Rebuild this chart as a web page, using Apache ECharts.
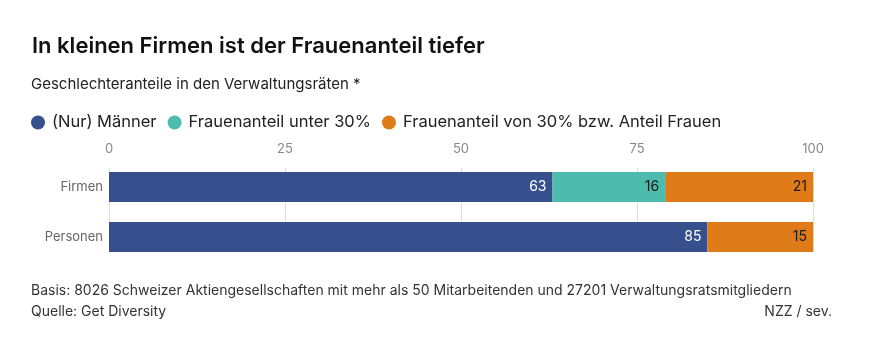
<!DOCTYPE html>
<html>
<head>
<meta charset="utf-8">
<script src="https://cdn.jsdelivr.net/npm/echarts@6/dist/echarts.min.js"></script>
<style>
  body, html { margin:0; padding:0; background:#fff; }
  #main { width:869px; height:353px; }
</style>
</head>
<body>
<div id="main"></div>
<script>
var categories = ['Firmen', 'Personen'];
var maenner = [63, 85];
var unter30 = [16, 0];
var ab30 = [21, 15];
var ticks = [0, 25, 50, 75, 100];

var chart = echarts.init(document.getElementById('main'));
var font = 'Inter, "Noto Sans", sans-serif';
var L = 109, R = 869 - 813;

function lbl(color) {
  return {
    show: true, position: 'insideRight', distance: 6,
    color: color, fontSize: 14, fontFamily: font,
    formatter: function (p) { return p.value ? p.value : ''; }
  };
}

chart.setOption({
  animation: false,
  title: [
    { text: 'In kleinen Firmen ist der Frauenanteil tiefer', left: 27, top: 30,
      textStyle: { fontSize: 22, fontWeight: 600, color: '#111', fontFamily: font } },
    { text: 'Geschlechteranteile in den Verwaltungsräten *', left: 26, top: 72,
      textStyle: { fontSize: 15, fontWeight: 400, color: '#222', fontFamily: font } },
    { text: 'Basis: 8026 Schweizer Aktiengesellschaften mit mehr als 50 Mitarbeitenden und 27201 Verwaltungsratsmitgliedern\nQuelle: Get Diversity',
      left: 26, top: 275,
      textStyle: { fontSize: 14, fontWeight: 400, color: '#333', lineHeight: 21, fontFamily: font } },
    { text: 'NZZ / sev.', right: 32, top: 300,
      textStyle: { fontSize: 14, fontWeight: 400, color: '#333', fontFamily: font } }
  ],
  legend: {
    left: 26, top: 109, icon: 'circle', itemWidth: 14, itemHeight: 14, itemGap: 11,
    textStyle: { fontSize: 16.5, color: '#222', fontFamily: font, padding: [0, 0, 0, 2] },
    data: ['(Nur) Männer', 'Frauenanteil unter 30%', 'Frauenanteil von 30% bzw. Anteil Frauen']
  },
  grid: [
    { left: L, right: R, top: 162, height: 100 },
    { left: L, right: R, top: 168, height: 84 }
  ],
  xAxis: [
    { gridIndex: 0, type: 'value', min: 0, max: 100, interval: 25,
      axisLabel: { show: false }, axisLine: { show: false }, axisTick: { show: false },
      splitLine: { show: false } },
    { gridIndex: 1, type: 'value', min: 0, max: 100, interval: 25, position: 'top',
      axisLabel: { color: '#888', fontSize: 13, fontFamily: font, margin: 12,
        formatter: function (v) { return ticks.indexOf(v) >= 0 ? v : ''; } },
      axisLine: { show: false }, axisTick: { show: false },
      splitLine: { show: true, lineStyle: { color: '#dcdce4', width: 1 } } }
  ],
  yAxis: [
    { gridIndex: 0, type: 'category', data: categories, inverse: true,
      axisLine: { show: false }, axisTick: { show: false },
      axisLabel: { color: '#666', fontSize: 13, fontFamily: font, margin: 6 } },
    { gridIndex: 1, type: 'category', data: categories, show: false }
  ],
  series: [
    { name: '(Nur) Männer', type: 'bar', stack: 'a', data: maenner, barWidth: 30,
      itemStyle: { color: '#364f8d' }, label: lbl('#fff') },
    { name: 'Frauenanteil unter 30%', type: 'bar', stack: 'a', data: unter30, barWidth: 30,
      itemStyle: { color: '#4dbcad' }, label: lbl('#1a1a1a') },
    { name: 'Frauenanteil von 30% bzw. Anteil Frauen', type: 'bar', stack: 'a', data: ab30, barWidth: 30,
      itemStyle: { color: '#e07b1a' }, label: lbl('#1a1a1a') }
  ]
});
</script>
</body>
</html>
